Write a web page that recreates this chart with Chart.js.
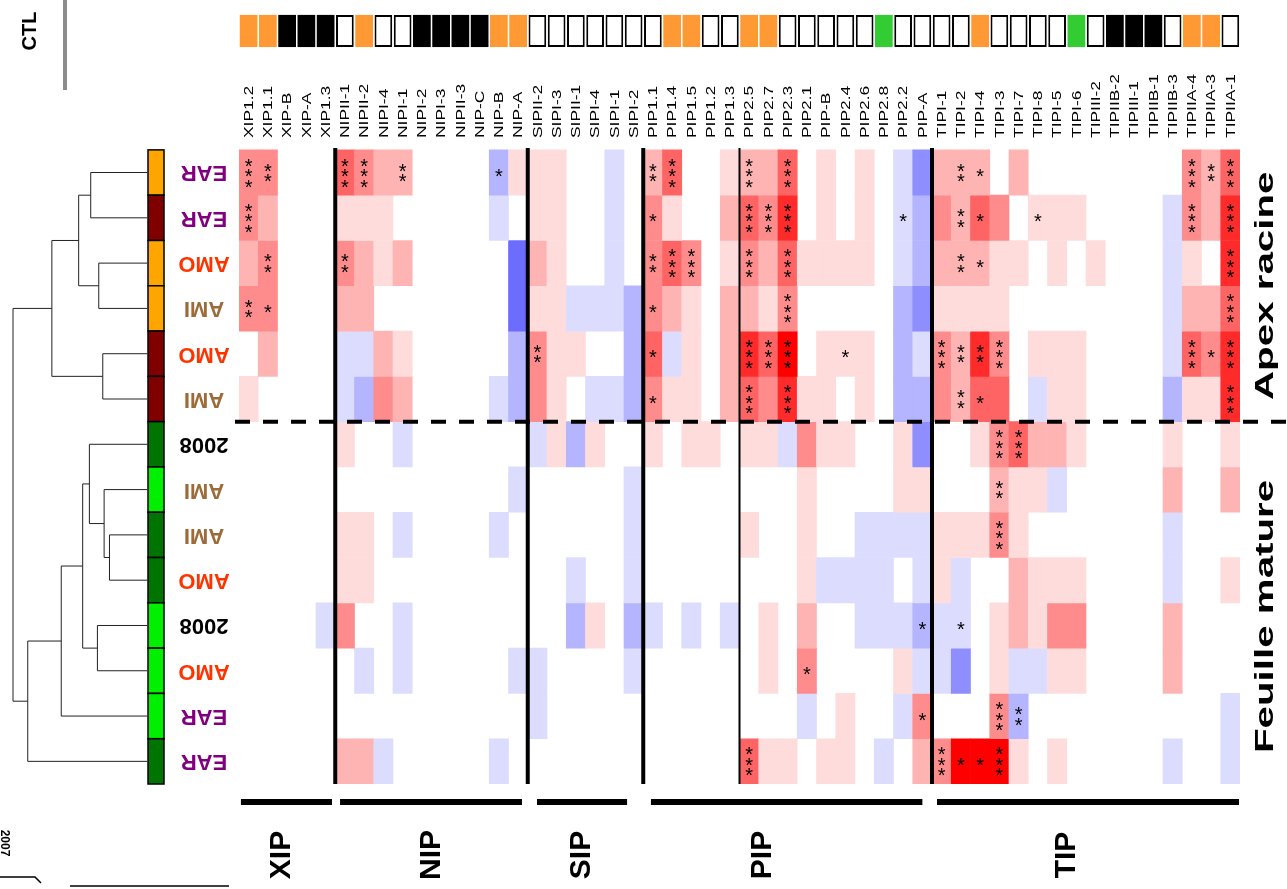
<!DOCTYPE html>
<html>
<head>
<meta charset="utf-8">
<script src="https://cdn.jsdelivr.net/npm/chart.js@4.4.0/dist/chart.umd.min.js"></script>
<style>
  html, body { margin: 0; padding: 0; background: #ffffff; }
  #wrap { width: 1287px; height: 889px; }
</style>
</head>
<body>
<div id="wrap"><canvas id="heat" width="1287" height="889"></canvas></div>
<script>
// gene columns, in the order of the figure
var genes = ['XIP1.2', 'XIP1.1', 'XIP-B', 'XIP-A', 'XIP1.3',
  'NIPII-1', 'NIPII-2', 'NIPI-4', 'NIPI-1', 'NIPI-2', 'NIPI-3', 'NIPII-3', 'NIP-C', 'NIP-B', 'NIP-A',
  'SIPII-2', 'SIPI-3', 'SIPII-1', 'SIPI-4', 'SIPI-1', 'SIPI-2',
  'PIP1.1', 'PIP1.4', 'PIP1.5', 'PIP1.2', 'PIP1.3', 'PIP2.5', 'PIP2.7', 'PIP2.3', 'PIP2.1', 'PIP-B', 'PIP2.4', 'PIP2.6', 'PIP2.8', 'PIP2.2', 'PIP-A',
  'TIPI-1', 'TIPI-2', 'TIPI-4', 'TIPI-3', 'TIPI-7', 'TIPI-8', 'TIPI-5', 'TIPI-6', 'TIPIII-2', 'TIPIIB-2', 'TIPIII-1', 'TIPIIB-1', 'TIPIIB-3', 'TIPIIA-4', 'TIPIIA-3', 'TIPIIA-1'];

// sample rows (top to bottom) and their colour bar code
var rowNames = ['EAR', 'EAR', 'AMO', 'AMI', 'AMO', 'AMI', '2008', 'AMI', 'AMI', 'AMO', '2008', 'AMO', 'EAR', 'EAR'];
var rowStage = ['o', 'm', 'o', 'o', 'm', 'm', 'd', 'l', 'd', 'd', 'l', 'l', 'l', 'd'];

// CTL row: o = orange, k = black, w = white, g = green
var ctlState = ['o', 'o', 'k', 'k', 'k',
  'w', 'o', 'w', 'w', 'k', 'k', 'k', 'k', 'o', 'o',
  'w', 'w', 'w', 'w', 'w', 'w',
  'w', 'o', 'o', 'w', 'w', 'o', 'o', 'w', 'w', 'w', 'w', 'w', 'g', 'w', 'w',
  'w', 'w', 'o', 'w', 'w', 'w', 'w', 'g', 'w', 'k', 'k', 'k', 'w', 'o', 'o', 'w'];

// log ratio classes (-4 strong down ... 6 strong up), columns: XIP | NIP | SIP | PIP | TIP
var r0 = [3, 3, 0, 0, 0, 4, 3, 2, 2, 0, 0, 0, 0, -2, 1, 1, 1, 0, 0, -1, 0,
  2, 4, 0, 0, 1, 2, 2, 4, 0, 1, 0, 1, 0, -1, -3, 2, 2, 2, 0, 2, 0, 0, 0, 0, 0, 0, 0, 0, 3, 2, 4];
var r1 = [3, 2, 0, 0, 0, 1, 1, 1, 0, 0, 0, 0, 0, -1, 0, 1, 1, 0, 0, -1, 0,
  3, 1, 0, 0, 2, 4, 3, 5, 0, 1, 0, 1, 0, -1, -2, 3, 2, 4, 3, 0, 1, 1, 1, 0, 0, 0, 0, -1, 3, 2, 5];
var r2 = [2, 3, 0, 0, 0, 3, 2, 1, 2, 0, 0, 0, 0, 0, -4, 2, 1, 0, 0, -1, 0,
  3, 4, 3, 0, 1, 3, 2, 4, 1, 1, 1, 1, 0, -1, -2, 2, 2, 2, 1, 1, 0, 1, 0, 1, 0, 0, 0, -1, 1, 0, 5];
var r3 = [3, 3, 0, 0, 0, 2, 2, 0, 0, 0, 0, 0, 0, 0, -4, 1, 1, -1, -1, -1, -2,
  3, 2, 1, 0, 2, 2, 1, 3, 0, 0, 0, 0, 0, -2, -3, 1, 1, 1, 1, 0, 0, 0, 0, 0, 0, 0, 0, -1, 2, 2, 4];
var r4 = [0, 2, 0, 0, 0, -1, -1, 2, 1, 0, 0, 0, 0, 0, -2, 3, 1, 1, 0, 0, -2,
  4, -1, 1, 0, 2, 5, 4, 6, 0, 1, 1, 1, 0, -2, -1, 3, 2, 5, 3, 0, 1, 1, 1, 0, 0, 0, 0, -1, 4, 3, 5];
var r5 = [1, 0, 0, 0, 0, -1, -2, 3, 2, 0, 0, 0, 0, -1, -2, 3, 1, 0, -1, -1, -2,
  3, 1, 1, 0, 2, 4, 3, 5, 1, 1, 0, 1, 0, -2, -2, 3, 2, 4, 4, 0, -1, 1, 1, 0, 0, 0, 0, -2, 1, 1, 5];
var r6 = [0, 0, 0, 0, 0, 1, 0, 0, -1, 0, 0, 0, 0, 0, 0, -1, 1, -2, 1, 0, 0,
  1, 0, 1, 1, 0, 1, 1, -1, 3, 1, 1, 0, 0, 1, -3, 0, 0, 1, 3, 4, 2, 2, 1, 0, 0, 0, 0, 1, 0, 0, 1];
var r7 = [0, 0, 0, 0, 0, 0, 0, 0, 0, 0, 0, 0, 0, 0, -1, 0, 0, 0, 0, 0, -1,
  0, 0, 0, 0, 0, 0, 0, 0, 1, 0, 0, 0, 0, 1, 1, 0, 0, 0, 2, 1, 1, -1, 0, 0, 0, 0, 0, 2, 0, 0, 2];
var r8 = [0, 0, 0, 0, 0, 1, 1, 0, -1, 0, 0, 0, 0, -1, 0, 0, 0, 0, 0, 0, -1,
  0, 0, 0, 0, 0, 1, 0, 0, 1, 0, 0, -1, -1, -1, -1, 1, 1, 1, 3, 1, 0, 0, 0, 0, 0, 0, 0, -1, 0, 0, 0];
var r9 = [0, 0, 0, 0, 0, 1, 1, 0, 0, 0, 0, 0, 0, 0, 0, 0, 0, -1, 0, 0, -1,
  0, 0, 0, 0, 0, 0, 0, 0, 1, -1, -1, -1, -1, 0, -1, 1, -1, 0, 0, 2, 1, 1, 1, 0, 0, 0, 0, -1, 0, 0, 1];
var r10 = [0, 0, 0, 0, -1, 3, 0, 0, -1, 0, 0, 0, 0, 0, 0, 0, 0, -2, 1, 0, -2,
  -1, 0, -1, 0, -1, 0, 1, 0, 2, 0, 0, -1, -1, -1, -2, -1, -1, 0, 1, 2, 1, 3, 3, 0, 0, 0, 0, 2, 0, 0, 0];
var r11 = [0, 0, 0, 0, 0, 0, -1, 0, -1, 0, 0, 0, 0, 0, -1, -1, 0, 0, 0, 0, -1,
  0, 0, 0, 0, 0, 0, 1, 0, 3, 0, 0, 0, 0, 1, -1, -1, -3, 0, 1, -1, -1, 1, 1, 0, 0, 0, 0, 2, 0, 0, 0];
var r12 = [0, 0, 0, 0, 0, 0, 0, 0, 0, 0, 0, 0, 0, 0, 0, -1, 0, 0, 0, 0, 0,
  0, 0, 0, 0, 0, 0, 0, 0, -1, 0, 1, 0, 0, -1, 3, 0, 0, 0, 3, -2, 0, 0, 0, 0, 0, 0, 0, 0, 0, 0, -1];
var r13 = [0, 0, 0, 0, 0, 2, 2, -1, 0, 0, 0, 0, 0, -1, 0, 0, 0, 0, 0, 0, 0,
  0, 0, 0, 0, 0, 4, 1, 1, 0, 1, 1, 0, -1, 0, 2, 3, 6, 6, 6, 1, 0, 1, 0, 0, 0, 0, 0, -1, 0, 0, -1];

// significance marks: [row, column, stars]
var stars = [
  [0, 0, '***'], [0, 1, '**'], [0, 5, '***'], [0, 6, '***'], [0, 8, '**'], [0, 13, '*'], [0, 21, '**'], [0, 22, '***'],
  [0, 26, '***'], [0, 28, '***'], [0, 37, '**'], [0, 38, '*'], [0, 49, '***'], [0, 50, '**'], [0, 51, '***'],
  [1, 0, '***'], [1, 21, '*'], [1, 26, '***'], [1, 27, '***'], [1, 28, '***'], [1, 34, '*'], [1, 37, '**'], [1, 38, '*'],
  [1, 41, '*'], [1, 49, '***'], [1, 51, '***'],
  [2, 1, '**'], [2, 5, '**'], [2, 21, '**'], [2, 22, '***'], [2, 23, '***'], [2, 26, '***'], [2, 28, '***'], [2, 37, '**'],
  [2, 38, '*'], [2, 51, '***'],
  [3, 0, '**'], [3, 1, '*'], [3, 21, '*'], [3, 28, '***'], [3, 51, '***'],
  [4, 15, '**'], [4, 21, '*'], [4, 26, '***'], [4, 27, '***'], [4, 28, '***'], [4, 31, '*'], [4, 36, '***'], [4, 37, '**'],
  [4, 38, '**'], [4, 39, '***'], [4, 49, '***'], [4, 50, '*'], [4, 51, '***'],
  [5, 21, '*'], [5, 26, '***'], [5, 28, '***'], [5, 37, '**'], [5, 38, '*'], [5, 51, '***'],
  [6, 39, '***'], [6, 40, '***'], [7, 39, '**'], [8, 39, '***'],
  [10, 35, '*'], [10, 37, '*'], [11, 29, '*'], [12, 35, '*'], [12, 39, '***'], [12, 40, '**'],
  [13, 26, '***'], [13, 36, '***'], [13, 37, '*'], [13, 38, '*'], [13, 39, '***']
];

// gene families: name, first and last column
var families = [['XIP', 0, 4], ['NIP', 5, 14], ['SIP', 15, 20], ['PIP', 21, 35], ['TIP', 36, 51]];

// clustering of the rows: [left, right, height]; leaves 0..13, merges 100+
var dendro = [
  [0, 1, 0.42], [2, 3, 0.36], [100, 101, 0.51], [4, 5, 0.33], [102, 103, 0.71],
  [8, 9, 0.28], [7, 105, 0.32], [6, 106, 0.43], [10, 11, 0.37], [107, 108, 0.48],
  [109, 12, 0.64], [110, 13, 0.89], [104, 111, 1.0]
];

var rows = [r0, r1, r2, r3, r4, r5, r6, r7, r8, r9, r10, r11, r12, r13];

var levelColors = {
  '-4': '#6c6cff', '-3': '#8e8eff', '-2': '#b4b4ff', '-1': '#dcdcff',
  '1': '#ffdcdc', '2': '#ffb4b4', '3': '#ff8c8c', '4': '#ff6464', '5': '#ff2a2a', '6': '#ff0000'
};
var ctlColors = { o: '#ff9933', k: '#000000', w: '#ffffff', g: '#33cc33' };
var stageColors = { o: '#ffa500', m: '#800000', d: '#007400', l: '#00f000' };
var nameColors = { EAR: '#800080', AMO: '#ff3300', AMI: '#9c6b3a', '2008': '#000000' };

var datasets = rows.map(function (vals, i) {
  return {
    label: rowNames[i],
    data: vals.map(function (v) { return v === 0 ? null : [i, i + 1]; }),
    backgroundColor: vals.map(function (v) { return levelColors[v] || 'rgba(0,0,0,0)'; }),
    borderWidth: 0,
    grouped: false,
    barPercentage: 1,
    categoryPercentage: 1
  };
});

datasets.push({
  label: 'CTL',
  data: ctlState.map(function () { return [-2.98, -2.27]; }),
  backgroundColor: ctlState.map(function (s) { return ctlColors[s]; }),
  borderColor: '#000000',
  borderWidth: ctlState.map(function (s) { return s === 'w' ? 2 : 0; }),
  borderSkipped: false,
  grouped: false,
  barPercentage: 0.92,
  categoryPercentage: 1
});

function rotText(ctx, txt, x, y, ang, font, color, align, sx) {
  ctx.save();
  ctx.translate(x, y);
  ctx.rotate(ang);
  ctx.scale(sx || 1, 1);
  ctx.font = font;
  ctx.fillStyle = color;
  ctx.textAlign = align;
  ctx.textBaseline = 'middle';
  ctx.fillText(txt, 0, 0);
  ctx.restore();
}

var decorPlugin = {
  id: 'decor',
  afterDatasetsDraw: function (chart) {
    var ctx = chart.ctx;
    var xs = chart.scales.x, ys = chart.scales.y;
    var w = xs.getPixelForValue(1) - xs.getPixelForValue(0);
    function edge(c) { return xs.getPixelForValue(0) - w / 2 + c * w; }
    function rowMid(r) { return ys.getPixelForValue(r + 0.5); }
    var top = ys.getPixelForValue(0), bottom = ys.getPixelForValue(14);

    // separators between families
    ctx.save();
    ctx.strokeStyle = '#000';
    [[5, 4], [15, 4], [21, 4], [26, 2], [36, 4]].forEach(function (s) {
      ctx.lineWidth = s[1];
      ctx.beginPath();
      ctx.moveTo(edge(s[0]), top - 2);
      ctx.lineTo(edge(s[0]), bottom);
      ctx.stroke();
    });
    // dashed split between the two tissues
    ctx.lineWidth = 4;
    ctx.setLineDash([15, 13]);
    ctx.beginPath();
    ctx.moveTo(235, ys.getPixelForValue(6));
    ctx.lineTo(1287, ys.getPixelForValue(6));
    ctx.stroke();
    ctx.restore();

    // stars
    ctx.save();
    ctx.fillStyle = '#000';
    ctx.font = '20px Arial';
    ctx.textAlign = 'center';
    ctx.textBaseline = 'middle';
    stars.forEach(function (s) {
      var n = s[2].length;
      var cx = xs.getPixelForValue(s[1]);
      var cy = rowMid(s[0]);
      for (var k = 0; k < n; k++) {
        ctx.fillText('*', cx, cy + (k - (n - 1) / 2) * 10.5 + 5);
      }
    });
    ctx.restore();

    // column labels
    genes.forEach(function (g, i) {
      rotText(ctx, g, xs.getPixelForValue(i) + 1, 138, -Math.PI / 2, '12px Arial', '#000', 'left', 1.45);
    });

    // CTL label
    rotText(ctx, 'CTL', 30, 31, -Math.PI / 2, 'bold 20px Arial', '#000', 'center');

    // colour bar, row labels
    ctx.save();
    rowStage.forEach(function (s, i) {
      var y0 = ys.getPixelForValue(i), y1 = ys.getPixelForValue(i + 1);
      ctx.fillStyle = stageColors[s];
      ctx.fillRect(148, y0, 16, y1 - y0);
      ctx.strokeStyle = '#000';
      ctx.lineWidth = 1.5;
      ctx.strokeRect(148, y0, 16, y1 - y0);
      rotText(ctx, rowNames[i], 204, rowMid(i), Math.PI, 'bold 22px Arial', nameColors[rowNames[i]], 'center');
    });
    ctx.restore();

    // dendrogram
    var nodes = {};
    for (var i = 0; i < 14; i++) nodes[i] = { y: rowMid(i), x: 147 };
    ctx.save();
    ctx.strokeStyle = '#222';
    ctx.lineWidth = 1;
    dendro.forEach(function (m, k) {
      var a = nodes[m[0]], b = nodes[m[1]];
      var hx = 147 - m[2] * 134;
      ctx.beginPath();
      ctx.moveTo(a.x, a.y);
      ctx.lineTo(hx, a.y);
      ctx.lineTo(hx, b.y);
      ctx.lineTo(b.x, b.y);
      ctx.stroke();
      nodes[100 + k] = { x: hx, y: (a.y + b.y) / 2 };
    });
    ctx.restore();

    // family bars and names
    var spans = [[0.1, 4.83], [5.25, 14.7], [15.48, 20.16], [21.4, 35.5], [36.26, 51.95]];
    var nameAt = [2.2, 10.0, 17.8, 27.2, 43.0];
    ctx.save();
    ctx.fillStyle = '#000';
    families.forEach(function (f, i) {
      ctx.fillRect(edge(spans[i][0]), 799, edge(spans[i][1]) - edge(spans[i][0]), 6);
      rotText(ctx, f[0], edge(nameAt[i]), 855, -Math.PI / 2, 'bold 30px Arial', '#000', 'center');
    });
    ctx.restore();

    // tissue names
    rotText(ctx, 'Apex racine', 1266, rowMid(2.5), -Math.PI / 2, 'bold 26px Arial', '#000', 'center', 1.55);
    rotText(ctx, 'Feuille mature', 1266, rowMid(9.8), -Math.PI / 2, 'bold 26px Arial', '#000', 'center', 1.55);

    // leftovers of the original layout
    ctx.save();
    ctx.fillStyle = '#8c8c8c';
    ctx.fillRect(63, 0, 4, 90);
    ctx.strokeStyle = '#000';
    ctx.lineWidth = 1.5;
    ctx.beginPath();
    ctx.moveTo(70, 886);
    ctx.lineTo(229, 886);
    ctx.stroke();
    ctx.beginPath();
    ctx.moveTo(0, 877);
    ctx.lineTo(35, 877);
    ctx.lineTo(41, 883);
    ctx.stroke();
    ctx.restore();
    rotText(ctx, '2007', 4, 843, Math.PI / 2, 'bold 12px Arial', '#000', 'center');
  }
};

var chart = new Chart(document.getElementById('heat'), {
  type: 'bar',
  data: { labels: genes, datasets: datasets },
  options: {
    responsive: false,
    animation: false,
    devicePixelRatio: 1,
    layout: { padding: { left: 239, right: 47, top: 14, bottom: 105 } },
    scales: {
      x: { display: false, offset: true, grid: { display: false } },
      y: { display: false, min: -3, max: 14, reverse: true }
    },
    plugins: { legend: { display: false }, tooltip: { enabled: false } }
  },
  plugins: [decorPlugin]
});
</script>
</body>
</html>
